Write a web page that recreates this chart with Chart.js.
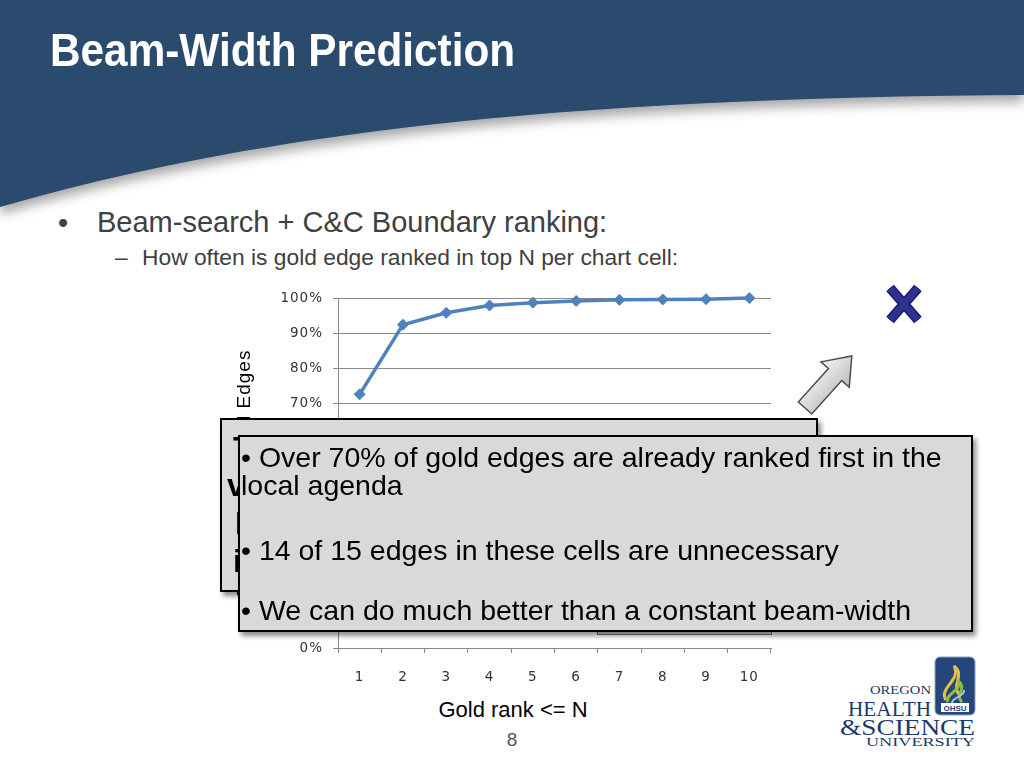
<!DOCTYPE html>
<html>
<head>
<meta charset="utf-8">
<title>Beam-Width Prediction</title>
<script src="https://cdn.jsdelivr.net/npm/chart.js@4.4.1/dist/chart.umd.min.js"></script>
<style>
  html, body { margin: 0; padding: 0; background: #fff; }
  #slide { position: relative; width: 1024px; height: 768px; overflow: hidden; font-family: 'Liberation Sans', Arial, sans-serif; }
  .abs { position: absolute; white-space: nowrap; line-height: 1; }
  #chartWrap { position: absolute; left: 200px; top: 280px; width: 600px; height: 444px; z-index: 1; }
  .box { position: absolute; box-sizing: border-box; background: #d9d9d9; }
</style>
</head>
<body>
<div id="slide">
  <!-- header band with curved lower edge -->
  <svg class="abs" width="1024" height="240" style="left:0;top:0;filter:drop-shadow(0 7px 6px rgba(0,0,0,.35))">
    <path d="M0,0 H1024 V95 C560,98 260,132 0,207 Z" fill="#2a4a6e"/>
  </svg>
  <div class="abs" style="left:50px;top:27px;font-size:46px;font-weight:bold;color:#fff;transform:scaleX(.92);transform-origin:left top;">Beam-Width Prediction</div>

  <div class="abs" style="left:58px;top:209px;font-size:29px;color:#404040;">•</div>
  <div class="abs" style="left:97px;top:208px;font-size:29px;color:#404040;">Beam-search + C&amp;C Boundary ranking:</div>
  <div class="abs" style="left:115px;top:246px;font-size:22.8px;color:#404040;">–</div>
  <div class="abs" style="left:142px;top:246px;font-size:22.8px;color:#404040;">How often is gold edge ranked in top N per chart cell:</div>

  <div id="chartWrap"><canvas id="chart" width="600" height="444"></canvas></div>

  <div class="abs" style="left:413px;top:699px;width:200px;text-align:center;font-size:22px;color:#000;">Gold rank &lt;= N</div>
  <div class="abs" style="left:492px;top:730px;width:40px;text-align:center;font-size:19px;color:#555;">8</div>

  <!-- blue X mark -->
  <svg class="abs" width="50" height="50" style="left:880px;top:280px;z-index:2">
    <g stroke-linecap="butt">
      <line x1="10" y1="8" x2="38" y2="40" stroke="#1c1f66" stroke-width="10"/>
      <line x1="38" y1="8" x2="10" y2="40" stroke="#1c1f66" stroke-width="10"/>
      <line x1="10" y1="8" x2="38" y2="40" stroke="#2e3192" stroke-width="7"/>
      <line x1="38" y1="8" x2="10" y2="40" stroke="#2e3192" stroke-width="7"/>
    </g>
  </svg>

  <!-- block arrow -->
  <svg class="abs" width="80" height="100" style="left:790px;top:340px;z-index:4">
    <defs>
      <linearGradient id="ag" x1="0" y1="0" x2="0" y2="1">
        <stop offset="0" stop-color="#f4f4f4"/>
        <stop offset="1" stop-color="#bcbcbc"/>
      </linearGradient>
    </defs>
    <polygon transform="translate(15,68) rotate(-48)" points="0,-9 45,-9 45,-19 70,0 45,19 45,9 0,9" fill="url(#ag)" stroke="#4d4d4d" stroke-width="1.5"/>
  </svg>

  <!-- boxes layered over the chart -->
  <div class="box" style="left:597px;top:592px;width:175px;height:43px;border:1px solid #777;z-index:2"></div>
  <div class="box" style="left:220px;top:418px;width:598px;height:174px;border:2px solid #000;box-shadow:3px 4px 5px rgba(0,0,0,.45);z-index:3;overflow:hidden">
    <div class="abs" style="left:11px;top:12px;font-size:32px;font-weight:bold;color:#000;">The gold edge is nearly always ranked high,</div>
    <div class="abs" style="left:5px;top:49px;font-size:32px;font-weight:bold;color:#000;">very close to the top of the agenda.</div>
    <div class="abs" style="left:13px;top:87px;font-size:32px;font-weight:bold;color:#000;">In most cells a wide beam is</div>
    <div class="abs" style="left:11px;top:125px;font-size:32px;font-weight:bold;color:#000;">inefficient.</div>
  </div>
  <div class="box" style="left:238px;top:435px;width:735px;height:197px;border:2.5px solid #000;box-shadow:3px 4px 5px rgba(0,0,0,.45);z-index:5">
    <div class="abs" style="left:1px;top:6px;font-size:28.5px;color:#000;">• Over 70% of gold edges are already ranked first in the</div>
    <div class="abs" style="left:1px;top:34px;font-size:28.5px;color:#000;">local agenda</div>
    <div class="abs" style="left:1px;top:99px;font-size:28.5px;color:#000;">• 14 of 15 edges in these cells are unnecessary</div>
    <div class="abs" style="left:1px;top:159px;font-size:28.5px;color:#000;">• We can do much better than a constant beam-width</div>
  </div>

  <!-- OHSU logo -->
  <svg class="abs" width="160" height="100" style="left:830px;top:650px">
    <rect x="105" y="7" width="40" height="58" rx="5" fill="#25467a" stroke="#8ea2c2" stroke-width="1"/>
    <path d="M116,50 C108,38 132,30 124,16 C136,26 120,34 130,46" fill="none" stroke="#e2c04c" stroke-width="3"/>
    <path d="M118,52 C114,44 134,40 128,30 C138,40 124,44 132,52" fill="none" stroke="#8cbf3f" stroke-width="3"/>
    <path d="M122,54 C120,48 136,46 134,40" fill="none" stroke="#9fc3e6" stroke-width="2"/>
    <rect x="111" y="53" width="28" height="9" fill="#fff"/>
    <text x="125" y="61" text-anchor="middle" font-family="Liberation Sans" font-weight="bold" font-size="8" fill="#25467a">OHSU</text>
    <g font-family="Liberation Serif" fill="#1b3a6b">
      <text x="40" y="44" font-size="13" textLength="61" lengthAdjust="spacingAndGlyphs">OREGON</text>
      <text x="18" y="66" font-size="22" textLength="83" lengthAdjust="spacingAndGlyphs">HEALTH</text>
      <text x="10" y="85" font-size="23" textLength="135" lengthAdjust="spacingAndGlyphs">&amp;SCIENCE</text>
      <text x="36" y="96" font-size="13" textLength="109" lengthAdjust="spacingAndGlyphs">UNIVERSITY</text>
    </g>
  </svg>
</div>

<script>
// chart values
const rankLabels = ['1', '2', '3', '4', '5', '6', '7', '8', '9', '10'];
const goldCoverage = [72.5, 92.4, 95.8, 97.9, 98.7, 99.2, 99.5, 99.6, 99.7, 100];
const yMin = 0;
const yMax = 100;
const yStep = 10;
const yTitle = 'Percentage of Gold Edges';

const axisGrey = '#8a8a8a';
const tickFont = { family: "'DejaVu Sans', sans-serif", size: 13.5 };
const tickColor = '#333';

// wider digit spacing like the stretched picture
const tickSpacing = {
  id: 'tickSpacing',
  beforeDraw(chart) {
    chart.ctx.letterSpacing = '1px';
  },
};

const ctx = document.getElementById('chart').getContext('2d');
new Chart(ctx, {
  type: 'line',
  data: {
    labels: rankLabels,
    datasets: [
      {
        data: goldCoverage,
        borderColor: '#4f81bd',
        backgroundColor: '#4f81bd',
        pointBackgroundColor: '#4f81bd',
        pointBorderColor: '#4f81bd',
        borderWidth: 3.5,
        pointStyle: 'rectRot',
        pointRadius: 5.5,
        pointBorderWidth: 1,
        tension: 0,
        fill: false,
        clip: false,
      },
    ],
  },
  options: {
    responsive: false,
    animation: false,
    layout: {
      padding: { top: 18, right: 29, left: 0, bottom: 0 },
    },
    plugins: {
      legend: { display: false },
      tooltip: { enabled: false },
    },
    scales: {
      x: {
        offset: true,
        grid: {
          offset: true,
          drawOnChartArea: false,
          tickLength: 5,
          color: axisGrey,
        },
        border: { color: axisGrey },
        ticks: { padding: 16, color: tickColor, font: tickFont },
        afterFit(scale) {
          scale.height = 76;
        },
      },
      y: {
        min: yMin,
        max: yMax,
        ticks: {
          stepSize: yStep,
          padding: 10,
          color: tickColor,
          font: tickFont,
          callback: function (v) {
            return v + '%';
          },
        },
        grid: { color: axisGrey, tickLength: 5 },
        border: { color: axisGrey },
        title: {
          display: true,
          text: yTitle,
          color: '#000',
          font: { family: "'Liberation Sans', Arial, sans-serif", size: 19 },
          padding: { top: 33, bottom: 0 },
        },
        afterFit(scale) {
          scale.width = 138;
        },
      },
    },
  },
  plugins: [tickSpacing],
});
</script>
</body>
</html>
